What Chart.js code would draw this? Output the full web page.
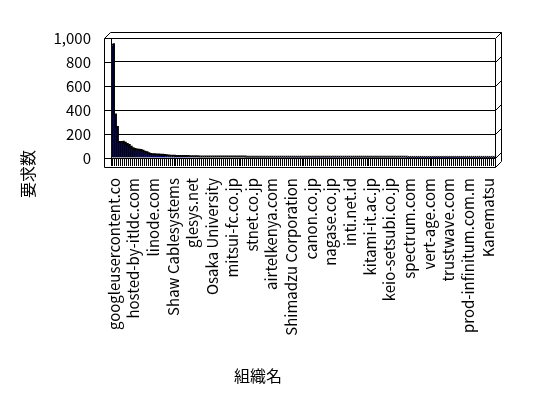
<!DOCTYPE html>
<html>
<head>
<meta charset="utf-8">
<script src="https://cdn.jsdelivr.net/npm/chart.js@4/dist/chart.umd.min.js"></script>
<style>
  html, body { margin: 0; padding: 0; background: #ffffff; }
  #wrap { position: relative; width: 548px; height: 398px; }
</style>
</head>
<body>
<div id="wrap"><canvas id="c" width="548" height="398"></canvas></div>
<script>
// ---- data ----
const values = [
  940, 355, 250, 125, 125, 128, 118, 108, 100, 86,
  72, 66, 62, 60, 58, 52, 44, 40, 32, 26,
  23, 22, 21, 20, 19, 18, 16, 14, 12, 11,
  10, 10, 9, 9, 9, 8, 8, 8, 8, 7, 7, 7, 7, 6,
  5, 5, 5, 5, 5, 5, 5, 5, 4, 4, 4, 4, 4, 4, 4, 4,
  4, 4, 4, 4, 4, 4, 4, 4, 3, 3, 3, 3, 3, 3, 3, 3, 3, 3, 3, 3,
  3, 3, 3, 3, 3, 3, 3, 3, 3, 3, 3, 3, 2, 2, 2, 2, 2, 2, 2, 2,
  2, 2, 2, 2, 2, 2, 2, 2, 2, 2, 2, 2, 2, 2, 2, 2, 2, 2, 2, 2,
  2, 2, 2, 2, 2, 2, 2, 2, 2, 2, 2, 2, 2, 2, 2, 2, 2, 2, 2, 2,
  2, 2, 2, 2, 2, 2, 2, 2, 2, 2, 1, 1, 1, 1, 1, 1, 1, 1, 1, 1,
  1, 1, 1, 1, 1, 1, 1, 1, 1, 1, 1, 1, 1, 1, 1, 1, 1, 1, 1, 1,
  1, 1, 1, 1, 1, 1, 1, 1, 1, 1, 1, 1, 1, 1, 1
];
const tickLabels = [
  "googleusercontent.co", "hosted-by-itldc.com", "linode.com", "Shaw Cablesystems",
  "glesys.net", "Osaka University", "mitsui-fc.co.jp", "stnet.co.jp",
  "airtelkenya.com", "Shimadzu Corporation", "canon.co.jp", "nagase.co.jp",
  "inti.net.id", "kitami-it.ac.jp", "keio-setsubi.co.jp", "spectrum.com",
  "vert-age.com", "trustwave.com", "prod-infinitum.com.m", "Kanematsu"
];
const labelStep = 10;
const categories = values.map((_, i) => (i % labelStep === 0 ? tickLabels[i / labelStep] : ""));
const yTickValues = [0, 200, 400, 600, 800, 1000];
const yTitle = "要求数";
const xTitle = "組織名";

// ---- styling ----
const FONT = "'Noto Sans CJK JP', 'Liberation Sans', sans-serif";
const BAR_FRONT = "#000090";
const INK = "#000000";

// 3D frame around the plot (derived from chart area and y scale)
const framePlugin = {
  id: "frame3d",
  afterDraw(chart) {
    const { ctx, chartArea: a, scales } = chart;
    const y = scales.y;
    const L = a.left, R = a.right, T = a.top, B = a.bottom;
    const side = 7, depth = 6, floor = 9;
    const p = v => Math.round(v) + 0.5;
    ctx.save();
    ctx.strokeStyle = INK;
    ctx.lineWidth = 1;
    ctx.beginPath();
    ctx.moveTo(p(L - side), p(T)); ctx.lineTo(p(L - side), p(B + floor));
    yTickValues.forEach(v => {
      const py = p(y.getPixelForValue(v));
      ctx.moveTo(p(L - side), py); ctx.lineTo(p(L), py);
      ctx.moveTo(p(R), py); ctx.lineTo(p(R + depth), py - depth);
    });
    ctx.moveTo(p(L - side), p(T)); ctx.lineTo(p(L - 1), p(T - depth));
    ctx.lineTo(p(R + depth), p(T - depth));
    ctx.lineTo(p(R + depth), p(B + floor - depth));
    ctx.moveTo(p(R), p(T)); ctx.lineTo(p(R), p(B + floor));
    ctx.moveTo(p(L - side), p(B + floor)); ctx.lineTo(p(R), p(B + floor));
    ctx.lineTo(p(R + depth), p(B + floor - depth));
    ctx.stroke();
    ctx.restore();
  }
};

// bar tops / sides (3D shading) drawn behind the bar fronts, from library element geometry
const barDepthPlugin = {
  id: "barDepth",
  beforeDatasetsDraw(chart) {
    const { ctx } = chart;
    const meta = chart.getDatasetMeta(0);
    const d = 2;
    ctx.save();
    ctx.fillStyle = INK;
    meta.data.forEach(el => {
      const props = el.getProps(["x", "y", "base", "width"], true);
      const left = props.x - props.width / 2, right = props.x + props.width / 2;
      ctx.beginPath();
      ctx.moveTo(left, props.y);
      ctx.lineTo(left + d, props.y - d);
      ctx.lineTo(right + d, props.y - d);
      ctx.lineTo(right + d, props.base - d);
      ctx.lineTo(right, props.base);
      ctx.lineTo(right, props.y);
      ctx.closePath();
      ctx.fill();
    });
    ctx.restore();
  }
};

// axis titles
const titlePlugin = {
  id: "titles",
  afterDraw(chart) {
    const { ctx } = chart;
    ctx.save();
    ctx.fillStyle = INK;
    ctx.font = "16px " + FONT;
    ctx.textAlign = "center";
    ctx.textBaseline = "middle";
    ctx.fillText(xTitle, 258, 376);
    ctx.translate(28, 174);
    ctx.rotate(-Math.PI / 2);
    ctx.fillText(yTitle, 0, 0);
    ctx.restore();
  }
};

new Chart(document.getElementById("c"), {
  type: "bar",
  data: {
    labels: categories,
    datasets: [{
      data: values,
      backgroundColor: BAR_FRONT,
      borderColor: INK,
      borderWidth: { top: 0, right: 1, left: 0, bottom: 0 },
      borderSkipped: false,
      barPercentage: 1,
      categoryPercentage: 1
    }]
  },
  options: {
    responsive: false,
    animation: false,
    devicePixelRatio: 1,
    locale: "en-US",
    layout: { padding: { left: 0, right: 53, top: 38, bottom: 0 } },
    plugins: { legend: { display: false }, tooltip: { enabled: false }, title: { display: false } },
    scales: {
      x: {
        offset: true,
        grid: { display: true, drawOnChartArea: false, drawTicks: true, tickLength: 8, color: INK, lineWidth: 1, offset: true },
        border: { display: false },
        ticks: {
          autoSkip: false, minRotation: 90, maxRotation: 90, padding: 12, labelOffset: 2,
          color: INK, font: { family: FONT, size: 15 }
        },
        afterFit(s) { s.height = 240; }
      },
      y: {
        min: 0, max: 1000,
        afterBuildTicks(s) { s.ticks = yTickValues.map(v => ({ value: v })); },
        grid: { color: INK, lineWidth: 1, drawTicks: false },
        border: { display: true, color: INK },
        ticks: { padding: 20, color: INK, font: { family: FONT, size: 15 } },
        afterFit(s) { s.width = 111; }
      }
    }
  },
  plugins: [barDepthPlugin, framePlugin, titlePlugin]
});
</script>
</body>
</html>
